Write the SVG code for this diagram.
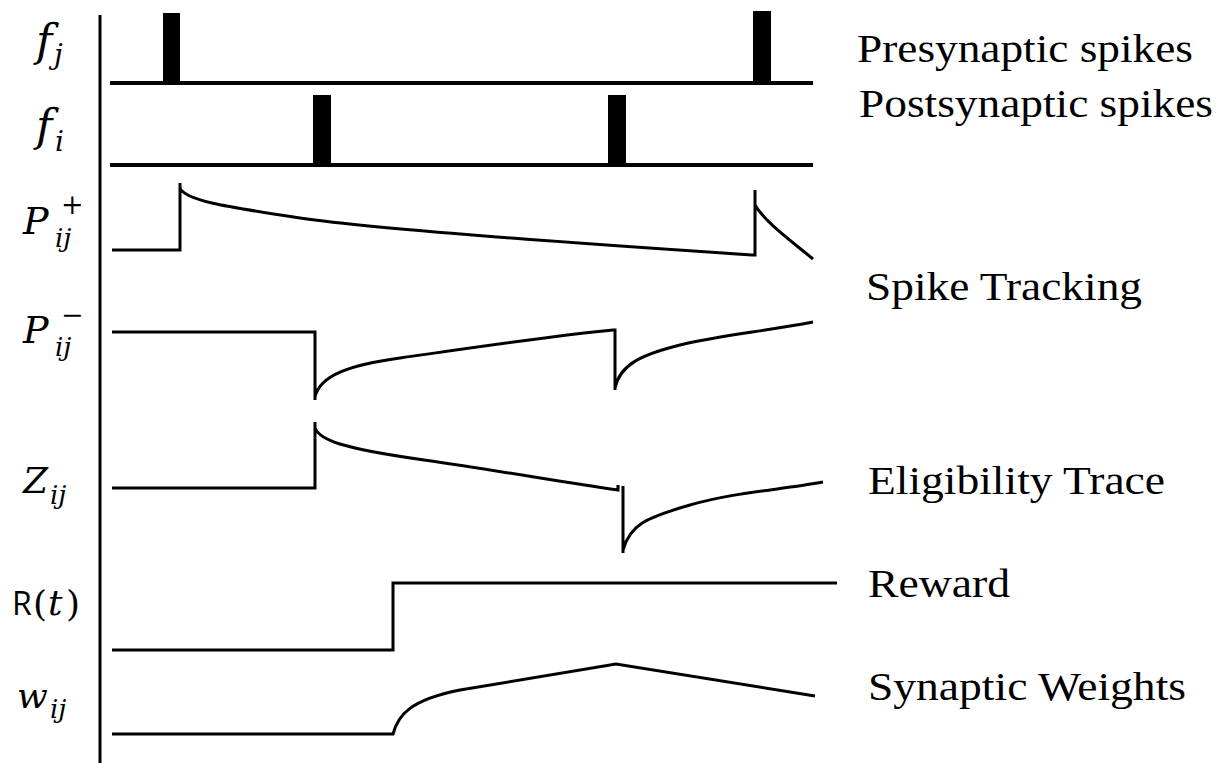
<svg xmlns="http://www.w3.org/2000/svg" width="1224" height="763" viewBox="0 0 1224 763">
  <style>
    .trace { fill: none; stroke: #000; stroke-width: 3; stroke-linejoin: miter; }
    .base { fill: none; stroke: #000; stroke-width: 4; }
    .spike { fill: #000; }
    .math { font-family: "DejaVu Serif", serif; font-style: italic; fill: #000; }
    .sym { font-family: "DejaVu Serif", serif; fill: #000; }
    .up { font-family: "Open Sans", "Liberation Sans", sans-serif; fill: #000; }
    .name { font-family: "Liberation Serif", serif; font-size: 40px; fill: #000; }
  </style>
  <rect width="1224" height="763" fill="#fff"/>

  <!-- time axis -->
  <line x1="100" y1="15" x2="100" y2="763" stroke="#000" stroke-width="3"/>

  <g id="row-fj">
    <text class="math" x="36" y="56" font-size="44">f</text>
    <text class="math" x="54" y="64" font-size="28">j</text>
    <line class="base" x1="110" y1="83" x2="813" y2="83"/>
    <rect class="spike" x="163" y="13" width="17" height="70"/>
    <rect class="spike" x="753" y="11" width="18" height="72"/>
    <text class="name" x="857" y="62" textLength="336" lengthAdjust="spacingAndGlyphs">Presynaptic spikes</text>
  </g>

  <g id="row-fi">
    <text class="math" x="36" y="141" font-size="44">f</text>
    <text class="math" x="55" y="151" font-size="28">i</text>
    <line class="base" x1="110" y1="165" x2="813" y2="165"/>
    <rect class="spike" x="313" y="95" width="18" height="70"/>
    <rect class="spike" x="608" y="95" width="18" height="70"/>
    <text class="name" x="859" y="117" textLength="354" lengthAdjust="spacingAndGlyphs">Postsynaptic spikes</text>
  </g>

  <g id="row-pplus">
    <text class="math" x="23" y="234" font-size="38">P</text>
    <text class="sym" x="61" y="214" font-size="27">+</text>
    <text class="math" x="55" y="247" font-size="26">ij</text>
    <path class="trace" d="M112,250 H180 V183 M180,188 C185,200 220,206 300,218 S600,245 752,255 H755 V190 M755,205 C765,222 790,240 813,259"/>
  </g>

  <g id="row-pminus">
    <text class="math" x="23" y="343" font-size="38">P</text>
    <text class="sym" x="61" y="324" font-size="27">−</text>
    <text class="math" x="55" y="356" font-size="26">ij</text>
    <path class="trace" d="M112,332 H315 V400 M315,397 C320,375 350,365 400,358 S550,336 613,330 H615 V390 M615,388 C620,365 640,355 680,345 S760,332 813,322"/>
    <text class="name" x="866" y="300" textLength="276" lengthAdjust="spacingAndGlyphs">Spike Tracking</text>
  </g>

  <g id="row-z">
    <text class="math" x="23" y="493" font-size="36">Z</text>
    <text class="math" x="50" y="504" font-size="26">ij</text>
    <path class="trace" d="M112,488 H315 V422 M315,428 C320,440 340,448 424,460 S560,482 618,490 V485 M623,486 V553 M623,550 C630,525 645,518 690,505 S780,490 823,482"/>
    <text class="name" x="868" y="494" textLength="297" lengthAdjust="spacingAndGlyphs">Eligibility Trace</text>
  </g>

  <g id="row-r">
    <text class="up" x="12" y="615" font-size="32">R</text>
    <text class="sym" x="33" y="616" font-size="36">(</text>
    <text class="math" x="48" y="615" font-size="36">t</text>
    <text class="sym" x="66" y="616" font-size="36">)</text>
    <path class="trace" d="M112,650 H393 V583 H837"/>
    <text class="name" x="868" y="597" textLength="142" lengthAdjust="spacingAndGlyphs">Reward</text>
  </g>

  <g id="row-w">
    <text class="math" x="17" y="708" font-size="36">w</text>
    <text class="math" x="50" y="718" font-size="26">ij</text>
    <path class="trace" d="M112,734 H393 C398,715 410,700 460,690 L616,664 L815,696"/>
    <text class="name" x="868" y="700" textLength="318" lengthAdjust="spacingAndGlyphs">Synaptic Weights</text>
  </g>
</svg>
